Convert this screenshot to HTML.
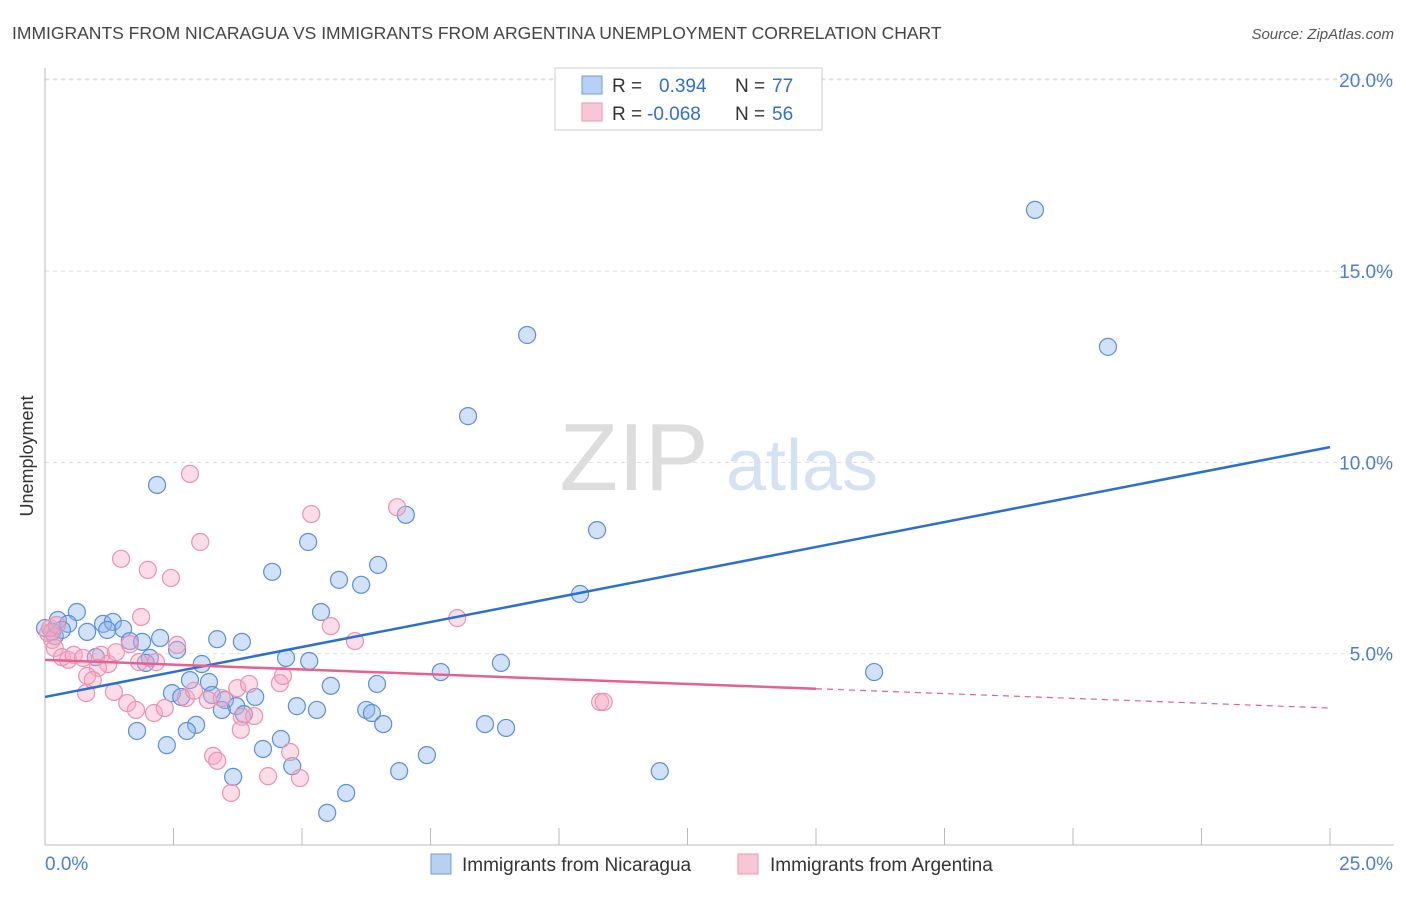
<!DOCTYPE html>
<html><head><meta charset="utf-8"><style>
body{margin:0;background:#fff;font-family:"Liberation Sans",sans-serif}
svg text{font-family:"Liberation Sans",sans-serif}
</style></head><body>
<svg id="chart" width="1406" height="892" viewBox="0 0 1406 892" xmlns="http://www.w3.org/2000/svg">
<text x="12" y="39" font-size="17.5" fill="#444">IMMIGRANTS FROM NICARAGUA VS IMMIGRANTS FROM ARGENTINA UNEMPLOYMENT CORRELATION CHART</text>
<text x="1394" y="39" font-size="15" fill="#555" text-anchor="end" font-style="italic">Source: ZipAtlas.com</text>
<g>
<text x="634" y="490" font-size="96" fill="#ddd" font-family="Liberation Serif" text-anchor="middle">ZIP</text>
<text x="802" y="490" font-size="72" fill="#d4e2f4" text-anchor="middle">atlas</text>
</g>
<g id="grid"></g>
<g id="axes"></g>
<g id="marks"></g>
<text transform="translate(33,456) rotate(-90)" font-size="18" fill="#333" text-anchor="middle">Unemployment</text>
<g>
<rect x="555" y="68" width="267" height="62" fill="#fff" stroke="#ccc"/>
<rect x="582" y="76" width="20" height="18" fill="#b8d1f3" stroke="#6d9be0"/>
<rect x="582" y="103" width="20" height="18" fill="#f8c7d6" stroke="#ec97b2"/>
<text x="612" y="92" font-size="19" fill="#333">R = </text><text x="659" y="92" font-size="19" fill="#2f6fd0">0.394</text>
<text x="735" y="92" font-size="19" fill="#333">N = </text><text x="772" y="92" font-size="19" fill="#2f6fd0">77</text>
<text x="612" y="120" font-size="19" fill="#333">R = </text><text x="647" y="120" font-size="19" fill="#2f6fd0">-0.068</text>
<text x="735" y="120" font-size="19" fill="#333">N = </text><text x="772" y="120" font-size="19" fill="#2f6fd0">56</text>
</g>
<g>
<rect x="431" y="854" width="20" height="20" fill="#b8d1f3" stroke="#6d9be0"/>
<text x="462" y="871" font-size="19" fill="#333">Immigrants from Nicaragua</text>
<rect x="738" y="854" width="20" height="20" fill="#f8c7d6" stroke="#ec97b2"/>
<text x="770" y="871" font-size="19" fill="#333">Immigrants from Argentina</text>
</g>
</svg>
<script>
const yTicks=[5,10,15,20];
const yTickLabels=["5.0%","10.0%","15.0%","20.0%"];
const xTickLabels=["0.0%","25.0%"];
const blueX=[19.26,20.68,9.38,8.23,2.18,7.02,10.74,5.12,4.42,6.48,5.72,6.15,10.41,5.37,0.62,0.25,0,0.45,0.82,1.13,1.32,1.52,1.21,1.65,1.89,2.24,3.35,3.83,2.04,2.57,0.99,1.96,3.05,4.69,5.14,7.70,8.87,16.13,2.82,3.19,2.47,2.65,3.25,5.56,6.46,4.09,3.50,3.72,3.44,3.87,4.90,5.29,6.25,6.36,6.58,8.56,8.97,2.94,2.76,1.79,2.37,4.59,4.24,4.81,3.66,6.89,7.43,11.96,5.86,5.49,0.14,0.19,0.33];
const blueY=[16.60,13.02,13.33,11.21,9.41,8.63,8.23,7.92,7.14,7.32,6.93,6.80,6.56,6.09,6.09,5.88,5.67,5.78,5.57,5.78,5.83,5.65,5.62,5.33,5.31,5.41,5.38,5.31,4.89,5.10,4.91,4.76,4.73,4.89,4.81,4.52,4.76,4.52,4.31,4.26,3.97,3.87,3.92,4.16,4.21,3.87,3.79,3.63,3.53,3.42,3.63,3.53,3.53,3.45,3.16,3.16,3.06,3.14,2.98,2.98,2.61,2.77,2.51,2.06,1.78,1.93,2.35,1.93,1.36,0.84,5.57,5.46,5.62];
const pinkX=[2.82,3.02,6.85,5.18,1.48,2.00,2.45,1.87,8.02,5.56,6.03,2.57,0.06,0.14,0.19,0.33,0.45,0.56,0.74,1.09,1.23,1.03,1.38,1.65,1.83,2.16,0.82,0.93,0.80,1.34,1.60,1.77,2.12,2.33,2.74,2.90,3.17,3.44,3.74,3.97,4.57,4.63,3.83,4.07,3.81,3.27,3.35,4.77,4.34,4.96,3.62,10.80,10.87,0.10,0.23];
const pinkY=[9.70,7.92,8.83,8.65,7.48,7.19,6.98,5.96,5.93,5.72,5.33,5.23,5.54,5.36,5.15,4.91,4.84,4.97,4.89,4.97,4.73,4.63,5.04,5.25,4.78,4.78,4.42,4.31,3.97,4.00,3.71,3.53,3.45,3.58,3.84,4.03,3.79,3.84,4.10,4.21,4.23,4.42,3.35,3.37,3.01,2.33,2.20,2.43,1.80,1.75,1.36,3.74,3.74,5.67,5.75];
const blueTrend=[3.87,10.40];
const pinkTrend=[4.84,3.58];
const pinkSolidEnd=15;
const NS="http://www.w3.org/2000/svg";
const X0=45,X1=1330,Y0=845,PXY=191.3/5;
const sx=v=>X0+(v/25)*(X1-X0);
const sy=v=>Y0-v*PXY;
function mk(parent,tag,attrs){const e=document.createElementNS(NS,tag);for(const k in attrs)e.setAttribute(k,attrs[k]);document.getElementById(parent).appendChild(e);return e;}
yTicks.forEach((t,i)=>{
 const g=mk('grid','line',{x1:X0,x2:1394,y1:sy(t),y2:sy(t),stroke:'#ddd','stroke-dasharray':'4,4'});
 
 
 const l=mk('axes','text',{x:1393,y:sy(t)+7,'font-size':19,fill:'#4a7fd4','text-anchor':'end'});
 l.textContent=yTickLabels[i];
 
 
});
{const g=mk('grid','line',{x1:X0,x2:1394,y1:79,y2:79,stroke:'#ddd','stroke-dasharray':'4,4'});

}
const ya=mk('axes','line',{x1:X0,x2:X0,y1:68,y2:Y0,stroke:'#bbb'});


const xa=mk('axes','line',{x1:X0,x2:1394,y1:Y0,y2:Y0,stroke:'#bbb'});


for(let i=0;i<=10;i++){
 const t=mk('axes','line',{x1:sx(i*2.5),x2:sx(i*2.5),y1:828,y2:Y0,stroke:'#bbb'});
 
 
}
[[0,'start',45],[25,'end',1393]].forEach((d,i)=>{
 const l=mk('axes','text',{x:d[2],y:870,'font-size':19,fill:'#4a7fd4','text-anchor':d[1]});
 l.textContent=xTickLabels[i];
 
 
});
blueX.forEach((x,i)=>{
 const c=mk('marks','circle',{cx:sx(x),cy:sy(blueY[i]),r:8.5,fill:'rgba(140,180,235,0.4)',stroke:'#5b8fdc','stroke-width':1.2});
 
 
});
pinkX.forEach((x,i)=>{
 const c=mk('marks','circle',{cx:sx(x),cy:sy(pinkY[i]),r:8.5,fill:'rgba(245,170,195,0.4)',stroke:'#ec92b0','stroke-width':1.2});
 
 
});
const bl=mk('marks','line',{x1:sx(0),y1:sy(blueTrend[0]),x2:sx(25),y2:sy(blueTrend[1]),stroke:'#2a6fd4','stroke-width':2.5});


const pAt=v=>pinkTrend[0]+(pinkTrend[1]-pinkTrend[0])*v/25;
const pl=mk('marks','line',{x1:sx(0),y1:sy(pAt(0)),x2:sx(pinkSolidEnd),y2:sy(pAt(pinkSolidEnd)),stroke:'#e8608d','stroke-width':2.5});


const pd=mk('marks','line',{x1:sx(pinkSolidEnd),y1:sy(pAt(pinkSolidEnd)),x2:sx(25),y2:sy(pAt(25)),stroke:'#e8608d','stroke-width':1.2,'stroke-dasharray':'6,5'});


</script>
</body></html>
